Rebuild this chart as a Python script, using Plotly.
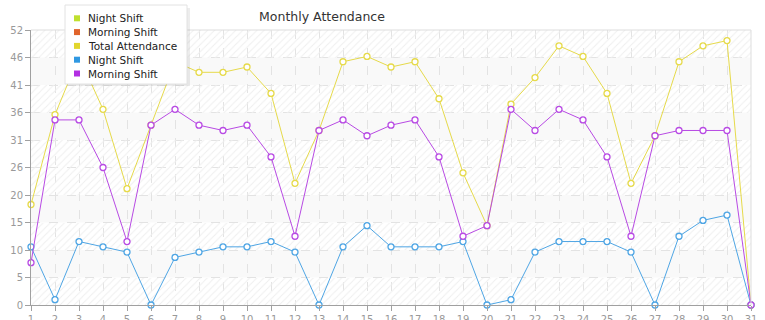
import plotly.graph_objects as go

# ---------------- data ----------------
days = list(range(1, 32))
night_shift = [11, 1, 12, 11, 10, 0, 9, 10, 11, 11, 12, 10, 0, 11, 15, 11,
               11, 11, 12, 0, 1, 10, 12, 12, 12, 10, 0, 13, 16, 17, 0]
morning_shift = [8, 35, 35, 26, 12, 34, 37, 34, 33, 34, 28, 13, 33, 35, 32, 34,
                 35, 28, 13, 15, 37, 33, 37, 35, 28, 13, 32, 33, 33, 33, 0]
total_attendance = [19, 36, 47, 37, 22, 34, 46, 44, 44, 45, 40, 23, 33, 46, 47, 45,
                    46, 39, 25, 15, 38, 43, 49, 47, 40, 23, 32, 46, 49, 50, 0]

y_tickvals = [0, 5.2, 10.4, 15.6, 20.8, 26, 31.2, 36.4, 41.6, 46.8, 52]
y_ticktext = ["0", "5", "10", "15", "20", "26", "31", "36", "41", "46", "52"]

legend_names = ["Night Shift", "Morning Shift", "Total Attendance", "Night Shift", "Morning Shift"]
legend_colors = ["#bfe02e", "#e0642c", "#e2d62e", "#2f98e2", "#b22fe2"]

title_text = "Monthly Attendance"

# ---------------- layout helpers ----------------
W, H = 765, 320
L, R, T, B = 31, 751, 30, 305


def px_x(px):
    return (px - L) / (R - L)


def px_y(py):
    return (B - py) / (B - T)


FONT = "DejaVu Sans"
fig = go.Figure()

# background bands (hatched / plain)
hatched = [0, 2, 4, 5, 7, 9]
plain = [1, 3, 6, 8]
band_h = y_tickvals[1] - y_tickvals[0]
fig.add_trace(go.Bar(
    x=[16] * len(hatched), y=[band_h] * len(hatched),
    base=[y_tickvals[i] for i in hatched], width=30,
    marker=dict(color="rgba(0,0,0,0)", line=dict(width=0),
                pattern=dict(shape="/", fgcolor="#efefef", bgcolor="rgba(0,0,0,0)",
                             size=5, solidity=0.2, fillmode="replace")),
    hoverinfo="skip", showlegend=False))

shapes = []
for i in plain:
    shapes.append(dict(type="rect", xref="paper", yref="y", x0=0, x1=1,
                       y0=y_tickvals[i], y1=y_tickvals[i + 1],
                       fillcolor="#f9f9f9", line=dict(width=0), layer="below"))

line_specs = [
    ("Total Attendance", total_attendance, "#e6da4a"),
    ("Night Shift", night_shift, "#4ea5e4"),
    ("Morning Shift", morning_shift, "#b84ae4"),
]
for name, vals, col in line_specs:
    fig.add_trace(go.Scatter(
        x=days, y=vals, name=name, mode="lines+markers",
        line=dict(color=col, width=1),
        marker=dict(symbol="circle", size=6, color="white", line=dict(color=col, width=1.3)),
        cliponaxis=False, showlegend=False))

# plot frame (top / right)
shapes.append(dict(type="line", xref="paper", yref="paper", x0=0, x1=1, y0=1, y1=1,
                   line=dict(color="#dddddd", width=1)))
shapes.append(dict(type="line", xref="paper", yref="paper", x0=1, x1=1, y0=0, y1=1,
                   line=dict(color="#dddddd", width=1)))

# legend box
shapes.append(dict(type="rect", xref="paper", yref="paper",
                   x0=px_x(67), x1=px_x(190), y0=px_y(86), y1=px_y(8),
                   fillcolor="rgba(0,0,0,0.07)", line=dict(width=0), layer="above"))
shapes.append(dict(type="rect", xref="paper", yref="paper",
                   x0=px_x(65), x1=px_x(187), y0=px_y(84), y1=px_y(5),
                   fillcolor="white", line=dict(color="#e2e2e2", width=1), layer="above"))
annotations = []
for i, (nm, col) in enumerate(zip(legend_names, legend_colors)):
    cy = 18.3 + 13.8 * i
    shapes.append(dict(type="rect", xref="paper", yref="paper",
                       x0=px_x(74), x1=px_x(80), y0=px_y(cy + 3), y1=px_y(cy - 3),
                       fillcolor=col, line=dict(width=0), layer="above"))
    annotations.append(dict(text=nm, xref="paper", yref="paper", x=px_x(86), y=px_y(cy),
                            xanchor="left", yanchor="middle", showarrow=False,
                            font=dict(family=FONT, size=10.5, color="#222222")))

axis_common = dict(
    showgrid=True, griddash="dash", gridcolor="#e3e3e3", gridwidth=1,
    showline=True, linecolor="#a0a0a0", linewidth=1,
    ticks="outside", ticklen=5, tickcolor="#a0a0a0",
    zeroline=False, tickfont=dict(family=FONT, size=10, color="#999999"),
    automargin=False, fixedrange=True,
)

fig.update_layout(
    width=W, height=H,
    margin=dict(l=L, r=W - R, t=T, b=H - B, pad=0),
    paper_bgcolor="white", plot_bgcolor="white",
    barmode="overlay", bargap=0,
    showlegend=False,
    title=dict(text=title_text, x=322 / W, xanchor="center", y=1 - 17 / H, yanchor="middle",
               xref="container", yref="container",
               font=dict(family=FONT, size=12.5, color="#333333")),
    xaxis=dict(range=[1, 31], tickmode="array", tickvals=days,
               ticktext=[str(d) for d in days], **axis_common),
    yaxis=dict(range=[0, 52], tickmode="array", tickvals=y_tickvals,
               ticktext=y_ticktext, **axis_common),
    shapes=shapes, annotations=annotations,
)

fig.write_html("out.html")
